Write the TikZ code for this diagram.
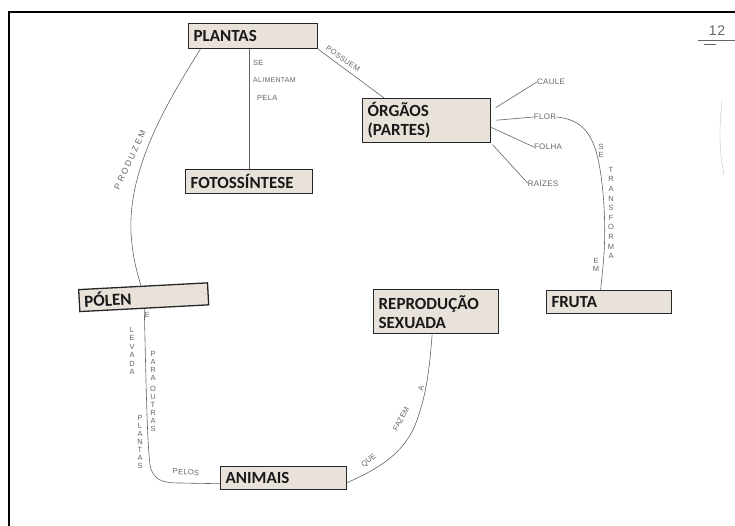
\documentclass[tikz,border=0pt]{standalone}
\usepackage{fontspec}
\setmainfont{Carlito}
\newfontfamily\hand[LetterSpace=4]{Liberation Sans}
\newfontfamily\handl[LetterSpace=25]{Liberation Sans}
\usetikzlibrary{shapes}
\definecolor{papel}{RGB}{232,226,218}
\definecolor{lapis}{RGB}{100,100,100}
\tikzstyle{cx} = [rectangle, draw=black!85, line width=1.3pt, fill=papel,
    anchor=north west, align=left, inner xsep=5pt, inner ysep=2pt,
    text=black!90, font=\fontsize{17}{19}\selectfont\bfseries]
\tikzstyle{lb} = [inner sep=0pt, text=lapis, align=center,
    font=\hand\fontsize{7.5}{8}\selectfont]
\tikzstyle{fio} = [draw=lapis, line width=0.6pt]

\begin{document}
\begin{tikzpicture}[x=1pt,y=-1pt]
  \useasboundingbox (0,0) rectangle (735,526);
  \draw[line width=2.5pt] (9,526) -- (9,12) -- (735,12);

  % caixas
  \node[cx,text width=119pt,minimum height=25pt] (pl)   at (188,23)  {PLANTAS};
  \node[cx,text width=118pt,minimum height=44pt] (org)  at (362,98)  {ÓRGÃOS\\(PARTES)};
  \node[cx,text width=117pt,minimum height=24pt] (foto) at (185,169) {FOTOSSÍNTESE};
  \node[cx,text width=119pt,minimum height=22pt,rotate=3] (pol) at (78,289) {PÓLEN};
  \node[cx,text width=115pt,minimum height=44pt] (rep)  at (373,289) {REPRODUÇÃO\\SEXUADA};
  \node[cx,text width=115pt,minimum height=23pt] (fru)  at (546,290) {FRUTA};
  \node[cx,text width=116pt,minimum height=23pt] (ani)  at (220,466) {ANIMAIS};

  % partes da planta
  \node[lb,font=\hand\fontsize{8}{9}\selectfont] (caule)  at (551,82)  {CAULE};
  \node[lb,font=\hand\fontsize{8}{9}\selectfont] (flor)   at (545,117) {FLOR};
  \node[lb,font=\hand\fontsize{8}{9}\selectfont] (folha)  at (548,147) {FOLHA};
  \node[lb,font=\hand\fontsize{8}{9}\selectfont] (raizes) at (543,183) {RAÍZES};

  % palavras de ligacao
  \node[lb,rotate=65,font=\handl\fontsize{8.5}{9}\selectfont] (lprod) at (130,160) {PRODUZEM};
  \node[lb,anchor=west] (lse)   at (253,63) {SE};
  \node[lb,anchor=west,font=\hand\fontsize{7}{8}\selectfont] (lalim) at (253,80) {ALIMENTAM};
  \node[lb,anchor=west] (lpela) at (257,98) {PELA};
  \node[lb,rotate=-35] (lpos) at (343,59) {POSSUEM};
  \node[lb,font=\hand\fontsize{7.5}{8.5}\selectfont] (lse2) at (601,151) {S\\E};
  \node[lb,font=\hand\fontsize{7.5}{9.6}\selectfont] (ltrans) at (611,213) {T\\R\\A\\N\\S\\F\\O\\R\\M\\A};
  \node[lb,font=\hand\fontsize{7.5}{8.5}\selectfont] (lem) at (596,265) {E\\M};
  \node[lb] (le) at (147,315) {E};
  \node[lb,font=\hand\fontsize{7.5}{8.4}\selectfont] (llev) at (132,351) {L\\E\\V\\A\\D\\A};
  \node[lb] (lpara) at (153,391) {P\\A\\R\\A\\[3pt]O\\U\\T\\R\\A\\S};
  \node[lb] (lplan) at (140,442) {P\\L\\A\\N\\T\\A\\S};
  \node[lb,rotate=-4] (lpelos) at (186,472) {PELOS};
  \node[lb,rotate=40] (lque) at (369,461) {QUE};
  \node[lb,rotate=62] (lfaz) at (401,419) {FAZEM};
  \node[lb,rotate=75] (la)   at (421,388) {A};
  \node[lb,font=\hand\fontsize{14}{15}\selectfont] (num) at (717,31) {12};

  % ligacoes
  \draw[fio] (pl.194) .. controls (165,105) and (128,170) .. (131,233)
             .. controls (133,260) and (137,272) .. (pol.100);
  \draw[fio] (foto.north |- pl.south) -- (foto.north);
  \draw[fio] (pl.south east) -- (org.152);
  \draw[fio,shorten <=5pt] (org.9) -- (caule.west);
  \draw[fio,shorten <=5pt] (org.east) -- (flor.west);
  \draw[fio] (org.-6) -- (folha.west);
  \draw[fio,shorten <=2pt] (org.south east) -- (raizes.west);
  \draw[fio] (flor.east) .. controls (588,120) and (598,140) .. (603,193)
             .. controls (607,240) and (603,265) .. (fru.125);
  \draw[fio] (pol.south) .. controls (146,380) and (147,440) .. (150,465)
             .. controls (153,480) and (162,483) .. (180,483) -- (ani.185);
  \draw[fio] (ani.-4) .. controls (375,470) and (405,455) .. (417,420)
             .. controls (428,390) and (430,360) .. (rep.260);

  % marcas do papel
  \draw[lapis] (698,40) -- (735,40);
  \draw[lapis] (704,44) -- (716,44);
  \draw[lapis!40] (722,100) .. controls (719,130) and (719,150) .. (724,175);
\end{tikzpicture}
\end{document}
